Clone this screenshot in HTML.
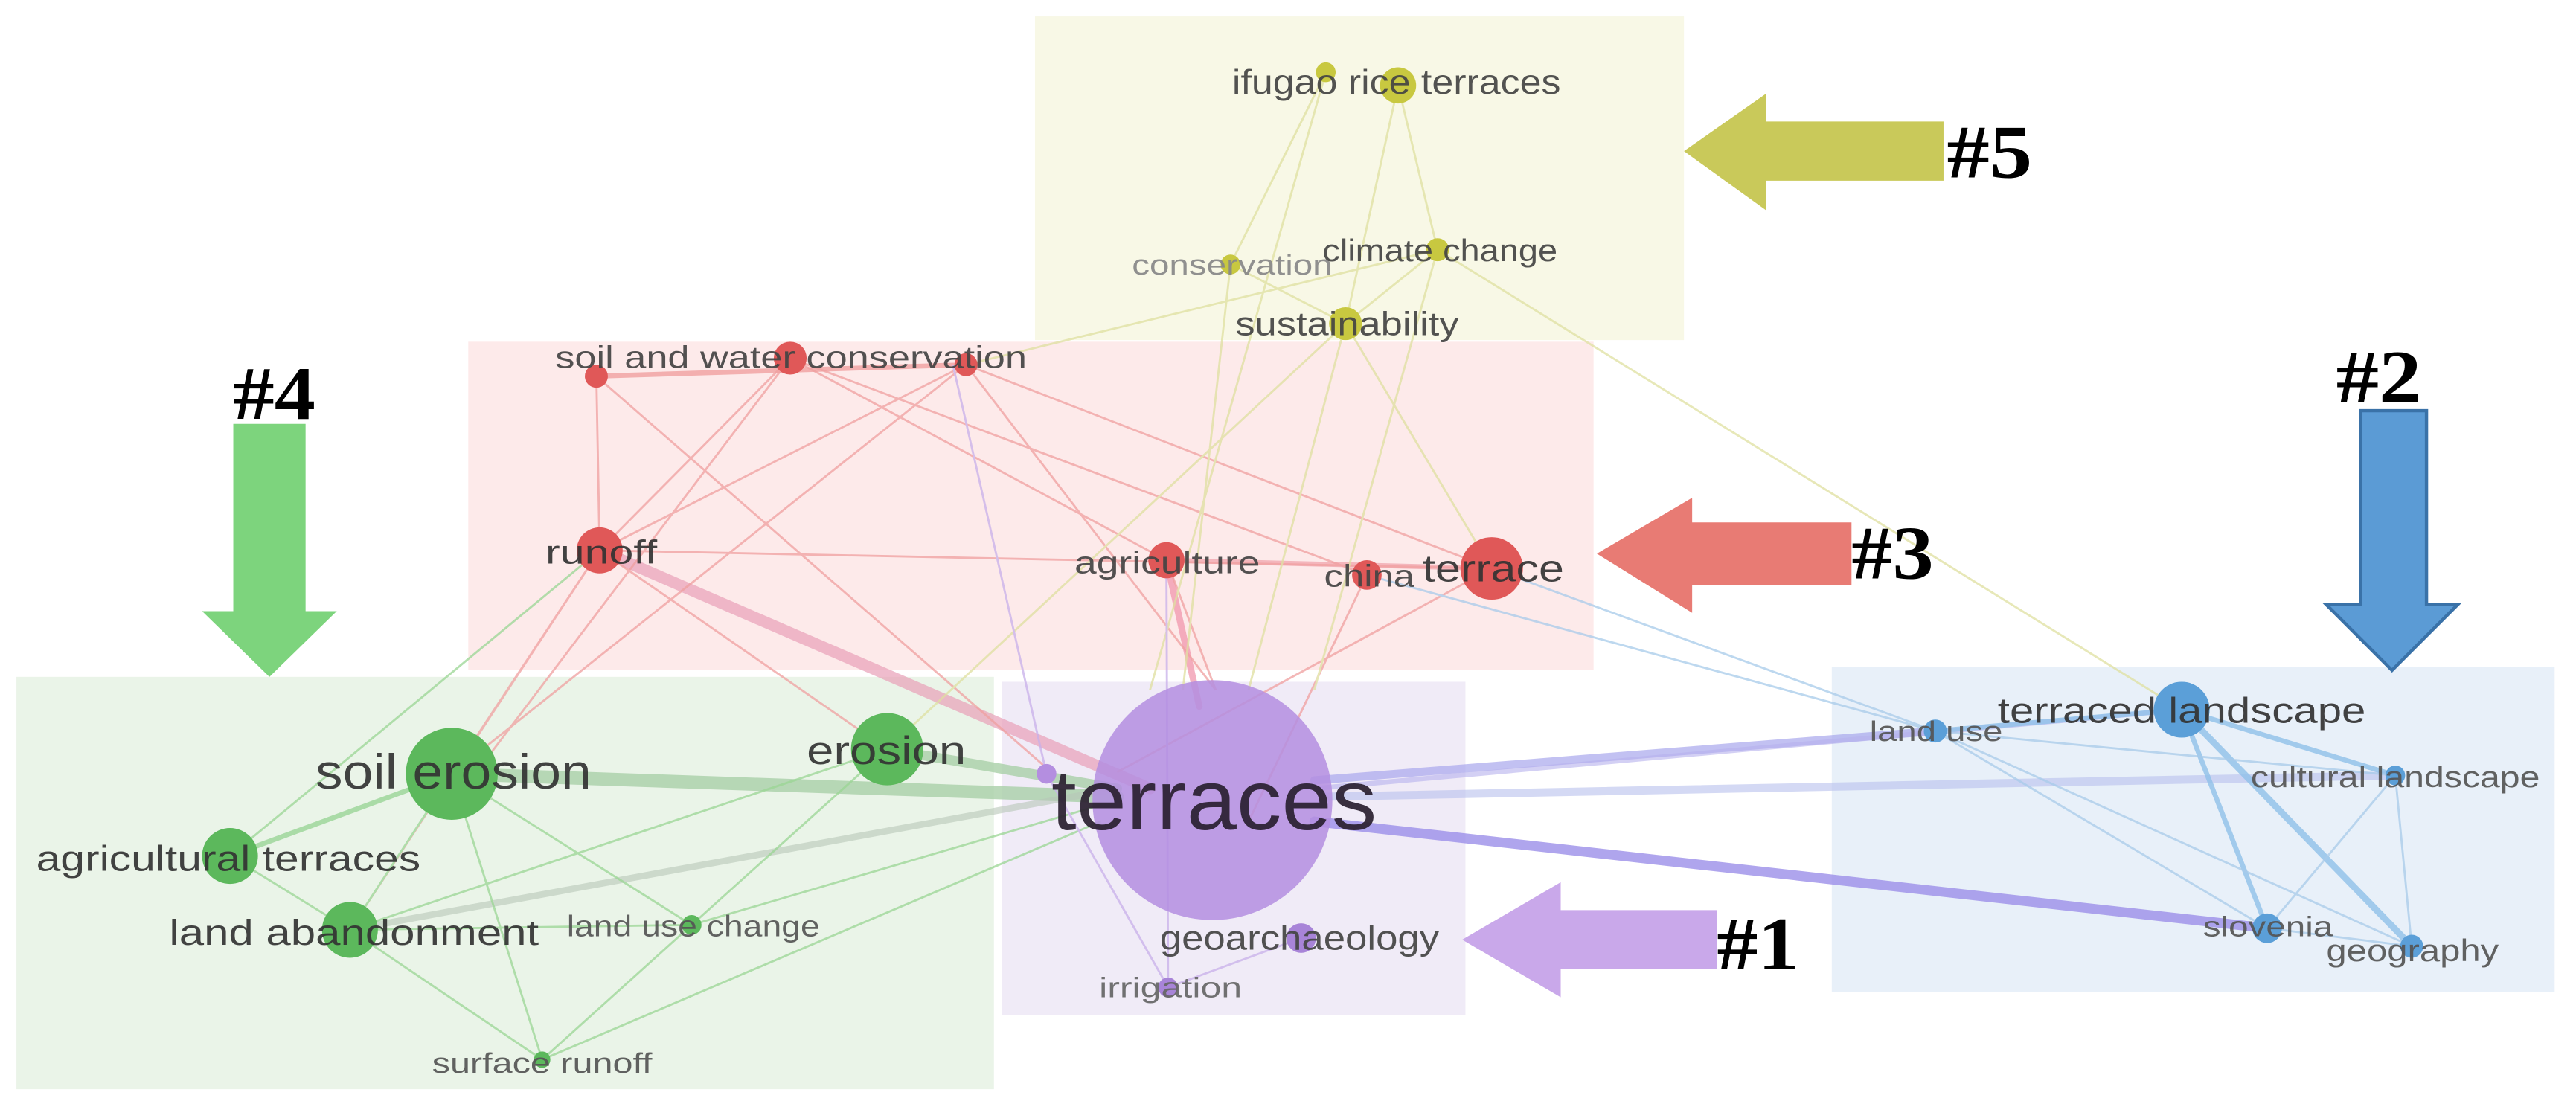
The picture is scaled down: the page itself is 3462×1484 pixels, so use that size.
<!DOCTYPE html>
<html><head><meta charset="utf-8"><style>
html,body{margin:0;padding:0;background:#fff;}
svg{display:block;}
text{font-family:"Liberation Sans",sans-serif;}
</style></head><body>
<svg width="3462" height="1484" viewBox="0 0 1568 672" preserveAspectRatio="none" xmlns="http://www.w3.org/2000/svg">
<rect x="630" y="10" width="395" height="197" fill="#f8f8e6"/>
<rect x="285" y="208" width="685" height="200" fill="#fdeaea"/>
<rect x="10" y="412" width="595" height="251" fill="#eaf4e8"/>
<rect x="610" y="415" width="282" height="203" fill="#f0ebf7"/>
<rect x="1115" y="406" width="440" height="198" fill="#e8f0f9"/>

<g fill="none" stroke-linecap="round">
<line x1="365" y1="335" x2="700" y2="480" stroke="#e8a0b8" stroke-width="7" opacity="0.7"/>
<line x1="275" y1="471" x2="680" y2="485" stroke="#a9cfa7" stroke-width="8" opacity="0.8"/>
<line x1="540" y1="456" x2="680" y2="480" stroke="#a9cfa7" stroke-width="6" opacity="0.8"/>
<line x1="800" y1="500" x2="1380" y2="565" stroke="#9b8ee8" stroke-width="6" opacity="0.8"/>
<line x1="800" y1="475" x2="1178" y2="445" stroke="#a8a6ec" stroke-width="5" opacity="0.7"/>
<line x1="805" y1="485" x2="1458" y2="472" stroke="#b8c0ec" stroke-width="5" opacity="0.6"/>
<line x1="800" y1="480" x2="1328" y2="432" stroke="#b6b0ec" stroke-width="3" opacity="0.6"/>
<line x1="710" y1="341" x2="730" y2="430" stroke="#f090a8" stroke-width="4" opacity="0.7"/>
<line x1="213" y1="566" x2="680" y2="480" stroke="#b8c7b8" stroke-width="4" opacity="0.6"/>
<line x1="140" y1="521" x2="275" y2="471" stroke="#8fd08c" stroke-width="3" opacity="0.7"/>
<line x1="1328" y1="432" x2="1468" y2="576" stroke="#8fc0e8" stroke-width="4" opacity="0.8"/>
<line x1="1328" y1="432" x2="1380" y2="565" stroke="#8fc0e8" stroke-width="3" opacity="0.8"/>
<line x1="1328" y1="432" x2="1458" y2="472" stroke="#8fc0e8" stroke-width="3" opacity="0.8"/>
<line x1="1178" y1="445" x2="1328" y2="432" stroke="#8fc0e8" stroke-width="3" opacity="0.8"/>
<line x1="363" y1="229" x2="588" y2="222" stroke="#f0a0a0" stroke-width="3" opacity="0.8"/>
<line x1="710" y1="341" x2="908" y2="346" stroke="#f0a0a8" stroke-width="3" opacity="0.7"/>
</g>
<g fill="none" stroke-width="1.3" opacity="0.75">
<g stroke="#f0a0a0">
<line x1="363" y1="229" x2="365" y2="335"/>
<line x1="363" y1="229" x2="640" y2="470"/>
<line x1="481" y1="218" x2="365" y2="335"/>
<line x1="481" y1="218" x2="710" y2="341"/>
<line x1="481" y1="218" x2="832" y2="350"/>
<line x1="588" y1="222" x2="365" y2="335"/>
<line x1="588" y1="222" x2="908" y2="346"/>
<line x1="588" y1="222" x2="275" y2="471"/>
<line x1="365" y1="335" x2="908" y2="346"/>
<line x1="365" y1="335" x2="540" y2="456"/>
<line x1="365" y1="335" x2="275" y2="471"/>
<line x1="365" y1="335" x2="213" y2="566"/>
<line x1="832" y1="350" x2="760" y2="500"/>
<line x1="908" y1="346" x2="680" y2="470"/>
<line x1="481" y1="218" x2="290" y2="470"/>
<line x1="710" y1="341" x2="740" y2="420"/>
<line x1="588" y1="222" x2="740" y2="420"/>
</g>
<g stroke="#dfe0a0">
<line x1="807" y1="44" x2="749" y2="161"/>
<line x1="851" y1="52" x2="875" y2="152"/>
<line x1="851" y1="52" x2="819" y2="197"/>
<line x1="749" y1="161" x2="819" y2="197"/>
<line x1="875" y1="152" x2="819" y2="197"/>
<line x1="875" y1="152" x2="588" y2="222"/>
<line x1="875" y1="152" x2="1328" y2="432"/>
<line x1="819" y1="197" x2="540" y2="456"/>
<line x1="819" y1="197" x2="908" y2="346"/>
<line x1="819" y1="197" x2="760" y2="420"/>
<line x1="749" y1="161" x2="720" y2="420"/>
<line x1="875" y1="152" x2="800" y2="420"/>
<line x1="807" y1="44" x2="700" y2="420"/>
</g>
<g stroke="#9ad694">
<line x1="275" y1="471" x2="421" y2="563"/>
<line x1="275" y1="471" x2="330" y2="645"/>
<line x1="275" y1="471" x2="213" y2="566"/>
<line x1="140" y1="521" x2="213" y2="566"/>
<line x1="140" y1="521" x2="365" y2="335"/>
<line x1="213" y1="566" x2="421" y2="563"/>
<line x1="213" y1="566" x2="330" y2="645"/>
<line x1="421" y1="563" x2="540" y2="456"/>
<line x1="330" y1="645" x2="421" y2="563"/>
<line x1="330" y1="645" x2="670" y2="500"/>
<line x1="213" y1="566" x2="540" y2="456"/>
<line x1="421" y1="563" x2="670" y2="490"/>
</g>
<g stroke="#c8b0ea">
<line x1="792" y1="571" x2="711" y2="601"/>
<line x1="711" y1="601" x2="637" y2="471"/>
<line x1="637" y1="471" x2="580" y2="222"/>
<line x1="711" y1="601" x2="710" y2="345"/>
</g>
<g stroke="#a8cbea">
<line x1="1178" y1="445" x2="1380" y2="565"/>
<line x1="1178" y1="445" x2="1468" y2="576"/>
<line x1="1178" y1="445" x2="1458" y2="472"/>
<line x1="1458" y1="472" x2="1468" y2="576"/>
<line x1="1458" y1="472" x2="1380" y2="565"/>
<line x1="1380" y1="565" x2="1468" y2="576"/>
<line x1="908" y1="346" x2="1178" y2="445"/>
<line x1="832" y1="350" x2="1178" y2="445"/>
</g>
</g>

<g>
<circle cx="738" cy="487" r="73" fill="#b48ee0" opacity="0.85"/>
<circle cx="637" cy="471" r="6" fill="#b48ee0"/>
<circle cx="792" cy="571" r="9" fill="#a884d8"/>
<circle cx="711" cy="601" r="6" fill="#a884d8"/>
<circle cx="275" cy="471" r="28" fill="#5cb85c"/>
<circle cx="540" cy="456" r="22" fill="#5cb85c"/>
<circle cx="140" cy="521" r="17" fill="#5cb85c"/>
<circle cx="213" cy="566" r="17" fill="#5cb85c"/>
<circle cx="421" cy="563" r="6" fill="#5cb85c"/>
<circle cx="330" cy="645" r="5" fill="#5cb85c"/>
<circle cx="365" cy="335" r="14" fill="#e05858"/>
<circle cx="710" cy="341" r="11" fill="#e05858"/>
<circle cx="832" cy="350" r="9" fill="#e05858"/>
<circle cx="908" cy="346" r="19" fill="#e05858"/>
<circle cx="363" cy="229" r="7" fill="#e05858"/>
<circle cx="481" cy="218" r="10" fill="#e05858"/>
<circle cx="588" cy="222" r="7" fill="#e05858"/>
<circle cx="807" cy="44" r="6" fill="#c8c840"/>
<circle cx="851" cy="52" r="11" fill="#c8c840"/>
<circle cx="749" cy="161" r="6" fill="#c8c840"/>
<circle cx="875" cy="152" r="7" fill="#c8c840"/>
<circle cx="819" cy="197" r="10" fill="#c8c840"/>
<circle cx="1328" cy="432" r="17" fill="#5b9fd8"/>
<circle cx="1178" cy="445" r="7" fill="#5b9fd8"/>
<circle cx="1458" cy="472" r="6" fill="#5b9fd8"/>
<circle cx="1380" cy="565" r="9" fill="#5b9fd8"/>
<circle cx="1468" cy="576" r="7" fill="#5b9fd8"/>
</g>

<g fill="#333" opacity="0.92">
<text x="640" y="505" font-size="52" textLength="198" lengthAdjust="spacingAndGlyphs" fill="#2a2030">terraces</text>
<text x="192" y="480" font-size="30" textLength="168" lengthAdjust="spacingAndGlyphs">soil erosion</text>
<text x="491" y="465" font-size="24" textLength="97" lengthAdjust="spacingAndGlyphs">erosion</text>
<text x="22" y="530" font-size="22" textLength="234" lengthAdjust="spacingAndGlyphs">agricultural terraces</text>
<text x="103" y="575" font-size="22" textLength="225" lengthAdjust="spacingAndGlyphs">land abandonment</text>
<text x="345" y="570" font-size="18" textLength="154" lengthAdjust="spacingAndGlyphs" fill="#555">land use change</text>
<text x="263" y="653" font-size="17" textLength="134" lengthAdjust="spacingAndGlyphs" fill="#555">surface runoff</text>
<text x="332" y="343" font-size="20" textLength="68" lengthAdjust="spacingAndGlyphs">runoff</text>
<text x="654" y="349" font-size="19" textLength="113" lengthAdjust="spacingAndGlyphs" fill="#444">agriculture</text>
<text x="806" y="357" font-size="19" textLength="55" lengthAdjust="spacingAndGlyphs" fill="#444">china</text>
<text x="866" y="354" font-size="23" textLength="86" lengthAdjust="spacingAndGlyphs">terrace</text>
<text x="338" y="224" font-size="19" textLength="287" lengthAdjust="spacingAndGlyphs" fill="#444">soil and water conservation</text>
<text x="750" y="57" font-size="21" textLength="200" lengthAdjust="spacingAndGlyphs" fill="#444">ifugao rice terraces</text>
<text x="689" y="167" font-size="17" textLength="122" lengthAdjust="spacingAndGlyphs" fill="#888">conservation</text>
<text x="805" y="159" font-size="19" textLength="143" lengthAdjust="spacingAndGlyphs" fill="#444">climate change</text>
<text x="752" y="204" font-size="20" textLength="136" lengthAdjust="spacingAndGlyphs" fill="#444">sustainability</text>
<text x="706" y="578" font-size="21" textLength="170" lengthAdjust="spacingAndGlyphs" fill="#444">geoarchaeology</text>
<text x="669" y="607" font-size="17" textLength="87" lengthAdjust="spacingAndGlyphs" fill="#666">irrigation</text>
<text x="1216" y="440" font-size="22" textLength="224" lengthAdjust="spacingAndGlyphs">terraced landscape</text>
<text x="1138" y="451" font-size="17" textLength="81" lengthAdjust="spacingAndGlyphs" fill="#555">land use</text>
<text x="1370" y="479" font-size="18" textLength="176" lengthAdjust="spacingAndGlyphs" fill="#555">cultural landscape</text>
<text x="1341" y="570" font-size="17" textLength="79" lengthAdjust="spacingAndGlyphs" fill="#555">slovenia</text>
<text x="1416" y="585" font-size="19" textLength="105" lengthAdjust="spacingAndGlyphs" fill="#555">geography</text>
</g>

<polygon points="1025,92 1075,57 1075,74 1183,74 1183,110 1075,110 1075,128" fill="#c9c95a"/>
<polygon points="972,337 1030,303 1030,318 1127,318 1127,356 1030,356 1030,373" fill="#e87b74"/>
<polygon points="890,572 950,537 950,554 1045,554 1045,590 950,590 950,607" fill="#c9a8ea"/>
<polygon points="164,412 123,372 142,372 142,258 186,258 186,372 205,372" fill="#7dd47d"/>
<polygon points="1456,408 1416,368 1437,368 1437,250 1477,250 1477,368 1496,368" fill="#5b9bd5" stroke="#3a72a8" stroke-width="2"/>

<g style="font-family:'Liberation Serif',serif;font-weight:bold;font-size:46px" fill="#000">
<text style="font-family:'Liberation Serif',serif" x="1185" y="108" textLength="52" lengthAdjust="spacingAndGlyphs">#5</text>
<text style="font-family:'Liberation Serif',serif" x="1127" y="352" textLength="50" lengthAdjust="spacingAndGlyphs">#3</text>
<text style="font-family:'Liberation Serif',serif" x="1045" y="590" textLength="50" lengthAdjust="spacingAndGlyphs">#1</text>
<text style="font-family:'Liberation Serif',serif" x="142" y="255" textLength="50" lengthAdjust="spacingAndGlyphs">#4</text>
<text style="font-family:'Liberation Serif',serif" x="1422" y="245" textLength="52" lengthAdjust="spacingAndGlyphs">#2</text>
</g>
</svg>
</body></html>
